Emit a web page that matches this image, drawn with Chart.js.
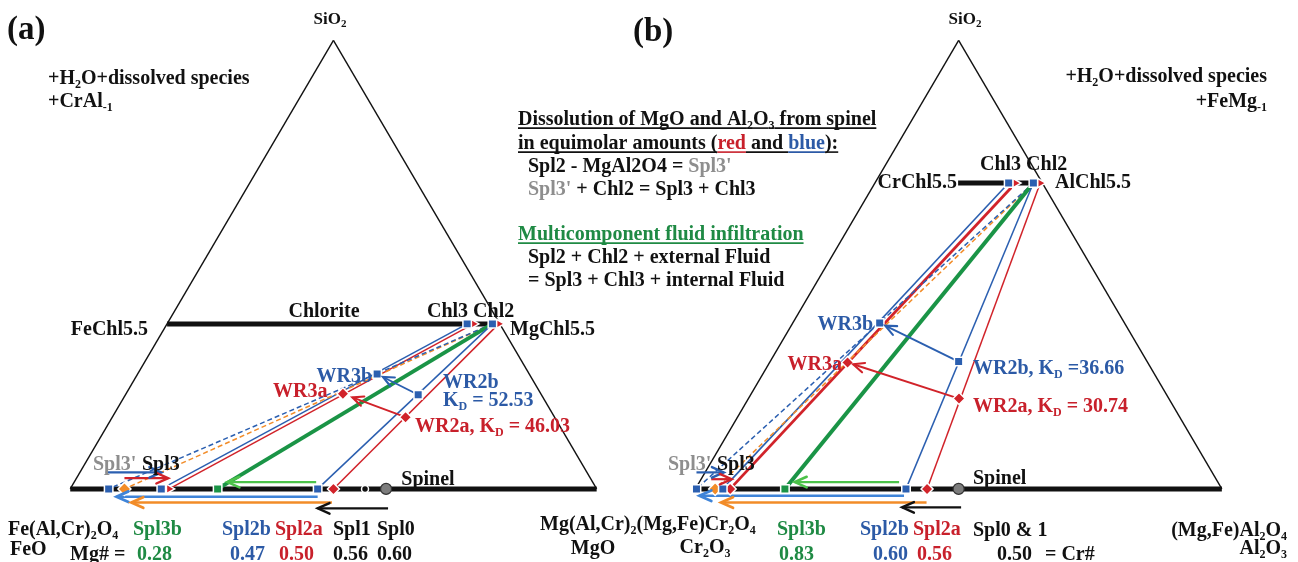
<!DOCTYPE html>
<html>
<head>
<meta charset="utf-8">
<script src="https://cdn.jsdelivr.net/npm/chart.js@4.4.1/dist/chart.umd.min.js"></script>
<style>
html,body{margin:0;padding:0;background:#fff;overflow:hidden}
#wrap{position:relative;width:1298px;height:562px}
canvas{display:block}
</style>
</head>
<body>
<div id="wrap"><canvas id="chart" width="1298" height="562"></canvas></div>
<script>
// Molar compositions. Each point is [SiO2 fraction, fraction of the right-hand corner].
// (a) right corner = MgO, so a spinel on the base sits at its Mg#
// (b) right corner = Al2O3, so a spinel on the base sits at 1 - Cr#

// ---- (a) SiO2 - FeO - MgO, Fe-Mg exchange
const mgSpinelA = { Spl0: 0.60, Spl1: 0.56, Spl2a: 0.50, Spl2b: 0.47, Spl3b: 0.28 };
const mgSpl3A   = { Spl3pBlue: 0.073, Spl3pOrange: 0.103, Spl3Blue: 0.173, Spl3Red: 0.188 };
const chlSiO2A  = 0.368;
const chlMgA    = { Chl3b: 0.570, Chl3a: 0.582, Chl2b: 0.618, Chl2a: 0.630 };
const chlJoinA  = [0.0, 0.625];
const wrA       = { WR3b: [0.256, 0.455], WR3a: [0.212, 0.412], WR2b: [0.210, 0.556], WR2a: [0.160, 0.557] };
const kdA       = { WR2b: 52.53, WR2a: 46.03 };

// ---- (b) SiO2 - Cr2O3 - Al2O3, Cr-Al exchange
const crSpinelB = { Spl0: 0.50, Spl2a: 0.56, Spl2b: 0.60, Spl3b: 0.83 };
const alSpl3B   = { Spl3pBlue: 0.002, Spl3pOrange: 0.0375, Spl3Blue: 0.052, Spl3Red: 0.066 };
const chlSiO2B  = 0.682;
const chlAlB    = { Chl3b: 0.254, Chl3a: 0.267, Chl2b: 0.301, Chl2a: 0.314 };
const chlJoinB  = [0.158, 0.305];
const wrB       = { WR3b: [0.370, 0.165], WR3a: [0.282, 0.148], WR2b: [0.284, 0.358], WR2a: [0.2015, 0.400] };
const kdB       = { WR2b: 36.66, WR2a: 30.74 };

// ---------- colours ----------
const C = {
  black: '#111111', red: '#d1232a', blue: '#2b5fb0', blueL: '#3f84d8', green: '#1a9446',
  greenL: '#4cc24a', orange: '#f28c28', grey: '#8e8e8e', greyFill: '#7d7d7d',
  redT: '#c8202b', blueT: '#2c5aa6', greenT: '#1f8a44'
};

// ---------- geometry of the two triangles on one canvas ----------
const PX = 533;                       // pixels per unit triangle side
const A_LEFT = 63, B_LEFT = 696, BASE_Y = 495, CW = 1298, CH = 562;
const SQ = Math.sqrt(3) / 2;
const OFF = { a: 0, b: (B_LEFT - A_LEFT) / PX };

function pt(p, si, r) { return { x: OFF[p] + r + si / 2, y: si * SQ }; }
function lane(p, r, px) { return { x: OFF[p] + r, y: px / PX }; }

function entries(obj, f) { return Object.fromEntries(Object.entries(obj).map(([k, v]) => [k, f(v)])); }
const comp = {
  a: Object.assign({}, entries(mgSpinelA, v => [0, v]), entries(mgSpl3A, v => [0, v]),
                   entries(chlMgA, v => [chlSiO2A, v]), wrA),
  b: Object.assign({}, entries(crSpinelB, v => [0, 1 - v]), entries(alSpl3B, v => [0, v]),
                   entries(chlAlB, v => [chlSiO2B, v]), wrB)
};
function P(p, name) { const c = comp[p][name]; return pt(p, c[0], c[1]); }

// ---------- dataset builders ----------
const datasets = [];
function addLine(data, color, width, dash, order, extra) {
  datasets.push(Object.assign({
    data, showLine: true, borderColor: color, backgroundColor: color, borderWidth: width,
    borderDash: dash || [], pointRadius: 0, pointHoverRadius: 0, order: order, fill: false,
    borderCapStyle: 'butt'
  }, extra || {}));
}
function addMarkers(data, style, fill, radius, opts) {
  opts = opts || {};
  datasets.push({
    data, showLine: false, pointStyle: style, pointRadius: radius, pointHoverRadius: radius,
    pointBackgroundColor: fill, pointBorderColor: opts.border || '#ffffff',
    pointBorderWidth: opts.bw == null ? 1.5 : opts.bw, pointRotation: opts.rot || 0, order: 0
  });
}

// triangle frames, spinel join and chlorite join
['a', 'b'].forEach(p => {
  addLine([pt(p, 0, 0), pt(p, 1, 0)], C.black, 1.4, null, 6);
  addLine([pt(p, 0, 1), pt(p, 1, 0)], C.black, 1.4, null, 6);
  addLine([pt(p, 0, 0), pt(p, 0, 1)], C.black, 5, null, 5);
});
addLine([pt('a', chlSiO2A, chlJoinA[0]), pt('a', chlSiO2A, chlJoinA[1])], C.black, 5, null, 5);
addLine([pt('b', chlSiO2B, chlJoinB[0]), pt('b', chlSiO2B, chlJoinB[1])], C.black, 5, null, 5);

// chlorite - spinel tie lines: [chlorite, spinel, colour, width, dash]
const tiesA = [
  ['Chl2a', 'Spl2a', C.red, 1.5], ['Chl2b', 'Spl2b', C.blue, 1.5],
  ['Chl2b', 'Spl3b', C.green, 4],
  ['Chl2b', 'Spl3pBlue', C.blue, 1.5, [5, 3]], ['Chl2b', 'Spl3pOrange', C.orange, 1.5, [5, 3]],
  ['Chl3b', 'Spl3Blue', C.blue, 1.5], ['Chl3a', 'Spl3Red', C.red, 1.5]
];
const tiesB = [
  ['Chl2a', 'Spl2a', C.red, 1.5], ['Chl2b', 'Spl2b', C.blue, 1.5],
  ['Chl2b', 'Spl3b', C.green, 4],
  ['Chl2b', 'Spl3pBlue', C.blue, 1.5, [5, 3]], ['Chl2b', 'Spl3pOrange', C.orange, 1.5, [5, 3]],
  ['Chl3b', 'Spl3Blue', C.blue, 1.6], ['Chl3a', 'Spl3Red', C.red, 2.8]
];
tiesA.forEach(t => addLine([P('a', t[0]), P('a', t[1])], t[2], t[3], t[4], 4));
tiesB.forEach(t => addLine([P('b', t[0]), P('b', t[1])], t[2], t[3], t[4], 4));

// arrows beside the spinel join: [from, to, colour, lane px, tail gap px, tip gap px, width]
const baseArrowsA = [
  ['Spl2b', 'Spl3b', C.greenL, 7, 1.5, 10, 2.4],
  ['Spl2b', 'Spl3pBlue', C.blueL, -8, 0, 8, 2.6],
  ['Spl2a', 'Spl3pOrange', C.orange, -14, 1.5, 7, 2.6],
  ['Spl0', 'Spl2b', C.black, -20, -2, 0, 2.2],
  ['Spl3pBlue', 'Spl3Blue', C.blue, 17, -3, 0, 2.2],
  ['Spl3pOrange', 'Spl3Red', C.red, 11, 0, 1, 2.2]
];
const baseArrowsB = [
  ['Spl2b', 'Spl3b', C.greenL, 7, 7, 10, 2.4],
  ['Spl2b', 'Spl3pBlue', C.blueL, -7, 2, 3, 2.6],
  ['Spl2a', 'Spl3pOrange', C.orange, -14, 0.5, 6, 2.6],
  ['Spl0', 'Spl2b', C.black, -19, -2.5, -4, 2.2],
  ['Spl3pBlue', 'Spl3Blue', C.blue, 17, 0, -1, 2.2],
  ['Spl3pOrange', 'Spl3Red', C.red, 10, -4, -1.5, 2.2]
];
function addBaseArrows(p, list) {
  list.forEach(a => {
    const r0 = comp[p][a[0]][1], r1 = comp[p][a[1]][1];
    const d = Math.sign(r1 - r0);
    const tail = r0 + d * a[4] / PX, tip = r1 - d * a[5] / PX;
    addLine([lane(p, tail, a[3]), lane(p, tip, a[3])], a[2], a[6], null, 3, { arrowHead: 13 });
  });
}
addBaseArrows('a', baseArrowsA);
addBaseArrows('b', baseArrowsB);

// whole-rock shift arrows: [from, to, colour, fraction left short of target]
const wrArrowsA = [['WR2b', 'WR3b', C.blue, 0.14], ['WR2a', 'WR3a', C.red, 0.15]];
const wrArrowsB = [['WR2b', 'WR3b', C.blue, 0.07], ['WR2a', 'WR3a', C.red, 0.05]];
function addWrArrows(p, list) {
  list.forEach(a => {
    const s = P(p, a[0]), e = P(p, a[1]);
    const tip = { x: e.x + (s.x - e.x) * a[3], y: e.y + (s.y - e.y) * a[3] };
    addLine([s, tip], a[2], 1.9, null, 3, { arrowHead: 12 });
  });
}
addWrArrows('a', wrArrowsA);
addWrArrows('b', wrArrowsB);

// markers
function pts(p, names) { return names.map(n => P(p, n)); }
addMarkers(pts('a', ['Spl3pBlue', 'Spl3Blue', 'Spl2b', 'Chl3b', 'Chl2b', 'WR3b', 'WR2b']), 'rect', C.blue, 6);
addMarkers(pts('a', ['Spl2a', 'WR3a', 'WR2a']), 'rectRot', C.red, 6);
addMarkers(pts('a', ['Spl3Red', 'Chl3a', 'Chl2a']), 'triangle', C.red, 5.5, { rot: 90 });
addMarkers(pts('a', ['Spl3pOrange']), 'rectRot', C.orange, 6.5);
addMarkers(pts('a', ['Spl3b']), 'rect', C.green, 6);
addMarkers(pts('a', ['Spl1']), 'circle', C.black, 3.5);
addMarkers(pts('a', ['Spl0']), 'circle', C.greyFill, 5.5, { border: '#333333', bw: 1.2 });

addMarkers(pts('b', ['Spl3pBlue', 'Spl3Blue', 'Spl2b', 'Chl3b', 'Chl2b', 'WR3b', 'WR2b']), 'rect', C.blue, 6);
addMarkers(pts('b', ['Spl3Red', 'Spl2a', 'WR3a', 'WR2a']), 'rectRot', C.red, 6);
addMarkers(pts('b', ['Chl3a', 'Chl2a']), 'triangle', C.red, 5.5, { rot: 90 });
addMarkers(pts('b', ['Spl3pOrange']), 'rectRot', C.orange, 6.5);
addMarkers(pts('b', ['Spl3b']), 'rect', C.green, 6);
addMarkers(pts('b', ['Spl0']), 'circle', C.greyFill, 5.5, { border: '#333333', bw: 1.2 });

// ---------- text ----------
const FAM = '"Liberation Serif","Times New Roman",Times,serif';
const f2 = v => v.toFixed(2);
const labels = [
  // (a)
  { x: 7, y: 28, size: 33, s: [['(a)']] },
  { x: 330, y: 18, size: 17, align: 'center', s: [['SiO_{2}']] },
  { x: 48, y: 77, s: [['+H_{2}O+dissolved species']] },
  { x: 48, y: 100, s: [['+CrAl_{-1}']] },
  { x: 148, y: 328, align: 'right', s: [['FeChl5.5']] },
  { x: 324, y: 310, align: 'center', s: [['Chlorite']] },
  { x: 427, y: 310, s: [['Chl3 Chl2']] },
  { x: 510, y: 328, s: [['MgChl5.5']] },
  { x: 372, y: 375, align: 'right', s: [['WR3b', C.blueT]] },
  { x: 273, y: 390, s: [['WR3a', C.redT]] },
  { x: 443, y: 381, s: [['WR2b', C.blueT]] },
  { x: 443, y: 399, s: [['K_{D} = ' + f2(kdA.WR2b), C.blueT]] },
  { x: 415, y: 425, s: [['WR2a, K_{D} = ' + f2(kdA.WR2a), C.redT]] },
  { x: 93, y: 463, s: [["Spl3'", C.grey]] },
  { x: 142, y: 463, s: [['Spl3']] },
  { x: 428, y: 478, align: 'center', s: [['Spinel']] },
  { x: 8, y: 528, s: [['Fe(Al,Cr)_{2}O_{4}']] },
  { x: 10, y: 548, s: [['FeO']] },
  { x: 133, y: 528, s: [['Spl3b', C.greenT]] },
  { x: 222, y: 528, s: [['Spl2b', C.blueT]] },
  { x: 275, y: 528, s: [['Spl2a', C.redT]] },
  { x: 333, y: 528, s: [['Spl1']] },
  { x: 377, y: 528, s: [['Spl0']] },
  { x: 70, y: 553, s: [['Mg# =']] },
  { x: 137, y: 553, s: [[f2(mgSpinelA.Spl3b), C.greenT]] },
  { x: 230, y: 553, s: [[f2(mgSpinelA.Spl2b), C.blueT]] },
  { x: 279, y: 553, s: [[f2(mgSpinelA.Spl2a), C.redT]] },
  { x: 333, y: 553, s: [[f2(mgSpinelA.Spl1)]] },
  { x: 377, y: 553, s: [[f2(mgSpinelA.Spl0)]] },
  { x: 540, y: 523, s: [['Mg(Al,Cr)_{2}(Mg,Fe)Cr_{2}O_{4}']] },
  { x: 593, y: 547, align: 'center', s: [['MgO']] },
  // (b)
  { x: 633, y: 30, size: 33, s: [['(b)']] },
  { x: 965, y: 18, size: 17, align: 'center', s: [['SiO_{2}']] },
  { x: 1267, y: 75, align: 'right', s: [['+H_{2}O+dissolved species']] },
  { x: 1267, y: 100, align: 'right', s: [['+FeMg_{-1}']] },
  { x: 518, y: 118, ul: true, s: [['Dissolution of MgO and Al_{2}O_{3} from spinel']] },
  { x: 518, y: 142, ul: true, s: [['in equimolar amounts ('], ['red', C.redT], [' and '], ['blue', C.blueT], ['):']] },
  { x: 528, y: 165, s: [['Spl2 - MgAl2O4 = '], ["Spl3'", C.grey]] },
  { x: 528, y: 188, s: [["Spl3'", C.grey], [' + Chl2 = Spl3 + Chl3']] },
  { x: 518, y: 233, ul: true, s: [['Multicomponent fluid infiltration', C.greenT]] },
  { x: 528, y: 256, s: [['Spl2 + Chl2 + external Fluid']] },
  { x: 528, y: 279, s: [['= Spl3 + Chl3 + internal Fluid']] },
  { x: 980, y: 163, s: [['Chl3 Chl2']] },
  { x: 957, y: 181, align: 'right', s: [['CrChl5.5']] },
  { x: 1055, y: 181, s: [['AlChl5.5']] },
  { x: 873, y: 323, align: 'right', s: [['WR3b', C.blueT]] },
  { x: 842, y: 363, align: 'right', s: [['WR3a', C.redT]] },
  { x: 973, y: 367, s: [['WR2b, K_{D} =' + f2(kdB.WR2b), C.blueT]] },
  { x: 973, y: 405, s: [['WR2a, K_{D} = ' + f2(kdB.WR2a), C.redT]] },
  { x: 668, y: 463, s: [["Spl3'", C.grey]] },
  { x: 717, y: 463, s: [['Spl3']] },
  { x: 973, y: 477, s: [['Spinel']] },
  { x: 705, y: 546, align: 'center', s: [['Cr_{2}O_{3}']] },
  { x: 777, y: 528, s: [['Spl3b', C.greenT]] },
  { x: 860, y: 528, s: [['Spl2b', C.blueT]] },
  { x: 913, y: 528, s: [['Spl2a', C.redT]] },
  { x: 973, y: 529, s: [['Spl0 & 1']] },
  { x: 779, y: 553, s: [[f2(crSpinelB.Spl3b), C.greenT]] },
  { x: 873, y: 553, s: [[f2(crSpinelB.Spl2b), C.blueT]] },
  { x: 917, y: 553, s: [[f2(crSpinelB.Spl2a), C.redT]] },
  { x: 997, y: 553, s: [[f2(crSpinelB.Spl0)]] },
  { x: 1045, y: 553, s: [['= Cr#']] },
  { x: 1287, y: 529, align: 'right', s: [['(Mg,Fe)Al_{2}O_{4}']] },
  { x: 1287, y: 547, align: 'right', s: [['Al_{2}O_{3}']] }
];

function parseRich(str) {
  const out = []; const re = /_\{([^}]*)\}/g; let last = 0, m;
  while ((m = re.exec(str))) {
    if (m.index > last) out.push({ t: str.slice(last, m.index) });
    out.push({ t: m[1], sub: true });
    last = re.lastIndex;
  }
  if (last < str.length) out.push({ t: str.slice(last) });
  return out;
}
function drawRich(ctx, item) {
  const size = item.size || 20;
  const segs = [];
  item.s.forEach(([str, col]) => parseRich(str).forEach(p => segs.push(Object.assign(p, { c: col || C.black }))));
  segs.forEach(g => {
    g.sz = g.sub ? Math.round(size * 0.62) : size;
    ctx.font = 'bold ' + g.sz + 'px ' + FAM;
    g.w = ctx.measureText(g.t).width;
  });
  const total = segs.reduce((s, g) => s + g.w, 0);
  let x = item.align === 'right' ? item.x - total : item.align === 'center' ? item.x - total / 2 : item.x;
  const by = item.y + size * 0.33;
  ctx.textAlign = 'left';
  ctx.textBaseline = 'alphabetic';
  segs.forEach(g => {
    ctx.font = 'bold ' + g.sz + 'px ' + FAM;
    ctx.fillStyle = g.c;
    ctx.fillText(g.t, x, g.sub ? by + size * 0.2 : by);
    if (item.ul) {
      ctx.strokeStyle = g.c; ctx.lineWidth = 1.6;
      ctx.beginPath(); ctx.moveTo(x, by + 3.5); ctx.lineTo(x + g.w, by + 3.5); ctx.stroke();
    }
    x += g.w;
  });
}

const arrowHeads = {
  id: 'arrowHeads',
  afterDatasetsDraw(chart) {
    const ctx = chart.ctx;
    chart.data.datasets.forEach((ds, i) => {
      if (!ds.arrowHead) return;
      const el = chart.getDatasetMeta(i).data;
      const a = el[el.length - 2], b = el[el.length - 1];
      const ang = Math.atan2(b.y - a.y, b.x - a.x), L = ds.arrowHead, sp = 0.42;
      ctx.save();
      ctx.strokeStyle = ds.borderColor; ctx.lineWidth = ds.borderWidth + 0.2;
      ctx.lineCap = 'round'; ctx.lineJoin = 'miter';
      ctx.beginPath();
      ctx.moveTo(b.x - L * Math.cos(ang - sp), b.y - L * Math.sin(ang - sp));
      ctx.lineTo(b.x, b.y);
      ctx.lineTo(b.x - L * Math.cos(ang + sp), b.y - L * Math.sin(ang + sp));
      ctx.stroke();
      ctx.restore();
    });
  }
};
const textLayer = {
  id: 'textLayer',
  afterDraw(chart) {
    const ctx = chart.ctx;
    ctx.save();
    labels.forEach(l => drawRich(ctx, l));
    ctx.restore();
  }
};
const whiteBg = {
  id: 'whiteBg',
  beforeDraw(chart) {
    const ctx = chart.ctx;
    ctx.save(); ctx.fillStyle = '#ffffff'; ctx.fillRect(0, 0, chart.width, chart.height); ctx.restore();
  }
};

new Chart(document.getElementById('chart'), {
  type: 'scatter',
  data: { datasets },
  options: {
    responsive: false, animation: false, devicePixelRatio: 1, events: [],
    layout: { padding: 0 },
    plugins: { legend: { display: false }, tooltip: { enabled: false }, title: { display: false } },
    scales: {
      x: { type: 'linear', display: false, min: -A_LEFT / PX, max: (CW - A_LEFT) / PX },
      y: { type: 'linear', display: false, min: -(CH - BASE_Y) / PX, max: BASE_Y / PX }
    },
    elements: { line: { tension: 0 } }
  },
  plugins: [whiteBg, arrowHeads, textLayer]
});
</script>
</body>
</html>
